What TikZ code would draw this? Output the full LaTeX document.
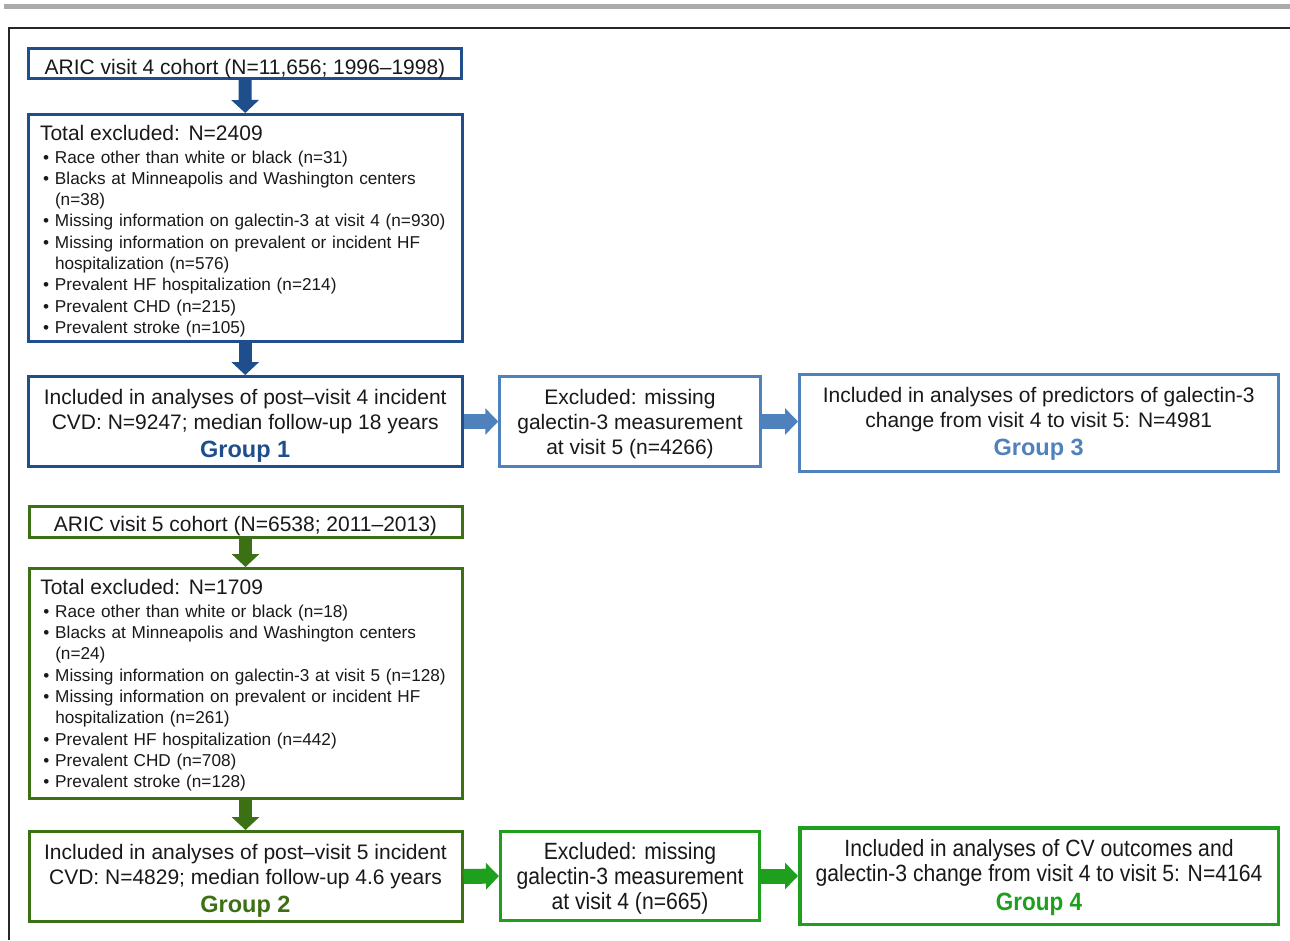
\documentclass[tikz,border=0pt]{standalone}
\usepackage{fontspec}
\setmainfont{Liberation Sans}
\newfontfamily\narrowfont[FakeStretch=0.9]{Liberation Sans}
\usetikzlibrary{arrows.meta}
\definecolor{dblue}{RGB}{31,78,140}
\definecolor{lblue}{RGB}{79,129,189}
\definecolor{dgreen}{RGB}{60,112,20}
\definecolor{bgreen}{RGB}{30,160,30}
\definecolor{txt}{RGB}{25,25,25}
\definecolor{barcol}{RGB}{170,170,170}
\newcommand{\bulit}{\makebox[15pt][l]{\hspace{3pt}•}}
\newcommand{\contind}{\hspace*{15pt}}
\newcommand{\up}[1]{\rule{0pt}{#1}}
\begin{document}
\begin{tikzpicture}[x=1pt,y=-1pt,
  box/.style={draw, line width=3pt, fill=white, inner sep=0pt, align=center, text=txt,
    font=\fontsize{21}{25}\selectfont},
  listbox/.style={box, align=left, text width=410.5pt, font=\fontsize{17.2}{21.3}\selectfont},
  narrowbox/.style={box, font=\narrowfont\fontsize{23.5}{25}\selectfont},
  downarrow/.style={line width=13pt, -{Triangle[width=27pt,length=13pt]}},
  rightarrow/.style={line width=15pt, -{Triangle[width=26pt,length=13pt]}}
]
\useasboundingbox (0,0) rectangle (1290,940);
\fill[barcol] (4,4) rectangle (1290,9);
\draw[line width=1.5pt, black!85] (9,940) -- (9,28) -- (1290,28);

% ---- Group 1 / 3 part
\node[box, draw=dblue, minimum width=433pt, minimum height=30pt, text height=21pt, text depth=0pt] (a1) at (245,63.5)
  {ARIC visit 4 cohort (N=11,656; 1996–1998)};
\node[listbox, draw=dblue, minimum width=433.5pt, minimum height=227pt] (b1) at (245.25,228)
  {{\fontsize{21}{21.3}\selectfont\up{21pt}Total excluded: N=2409}\\[1.7pt]
   \bulit Race other than white or black (n=31)\\
   \bulit Blacks at Minneapolis and Washington centers\\
   \contind (n=38)\\
   \bulit Missing information on galectin-3 at visit 4 (n=930)\\
   \bulit Missing information on prevalent or incident HF\\
   \contind hospitalization (n=576)\\
   \bulit Prevalent HF hospitalization (n=214)\\
   \bulit Prevalent CHD (n=215)\\
   \bulit Prevalent stroke (n=105)};
\node[box, draw=dblue, minimum width=433.5pt, minimum height=90pt] (c1) at (245.25,421.5)
  {\up{24.3pt}Included in analyses of post–visit 4 incident\\
   CVD: N=9247; median follow-up 18 years\\[3pt]
   {\fontsize{23.5}{24}\selectfont\bfseries\color{dblue}Group 1}};
\node[box, draw=lblue, line width=2.5pt, minimum width=261pt, minimum height=90pt] (d1) at (630,421.5)
  {\up{21.3pt}Excluded: missing\\galectin-3 measurement\\at visit 5 (n=4266)};
\node[box, draw=lblue, minimum width=478.5pt, minimum height=97pt] (e1) at (1038.75,423)
  {\up{17.3pt}Included in analyses of predictors of galectin-3\\
   change from visit 4 to visit 5: N=4981\\[2.5pt]
   {\fontsize{23.5}{24}\selectfont\bfseries\color{lblue}Group 3}};

\draw[downarrow, dblue] (a1.south) -- (b1.north);
\draw[downarrow, dblue] (b1.south) -- (c1.north);
\draw[rightarrow, lblue] (c1.east) -- (d1.west);
\draw[rightarrow, lblue] (d1.east) -- (d1.east -| e1.west);

% ---- Group 2 / 4 part
\node[box, draw=dgreen, minimum width=433pt, minimum height=31pt, text height=19pt, text depth=0pt] (a2) at (245.5,522)
  {ARIC visit 5 cohort (N=6538; 2011–2013)};
\node[listbox, draw=dgreen, minimum width=433pt, minimum height=230pt] (b2) at (245.5,683.5)
  {{\fontsize{21}{21.3}\selectfont\up{18.5pt}Total excluded: N=1709}\\[1.7pt]
   \bulit Race other than white or black (n=18)\\
   \bulit Blacks at Minneapolis and Washington centers\\
   \contind (n=24)\\
   \bulit Missing information on galectin-3 at visit 5 (n=128)\\
   \bulit Missing information on prevalent or incident HF\\
   \contind hospitalization (n=261)\\
   \bulit Prevalent HF hospitalization (n=442)\\
   \bulit Prevalent CHD (n=708)\\
   \bulit Prevalent stroke (n=128)};
\node[box, draw=dgreen, minimum width=433pt, minimum height=90pt] (c2) at (245.5,876.5)
  {\up{24.3pt}Included in analyses of post–visit 5 incident\\
   CVD: N=4829; median follow-up 4.6 years\\[3pt]
   {\fontsize{23.5}{24}\selectfont\bfseries\color{dgreen}Group 2}};
\node[narrowbox, draw=bgreen, minimum width=259pt, minimum height=89pt] (d2) at (630,876)
  {\up{21.1pt}Excluded: missing\\galectin-3 measurement\\at visit 4 (n=665)};
\node[narrowbox, draw=bgreen, line width=3.5pt, minimum width=478.5pt, minimum height=96.5pt] (e2) at (1039,876)
  {\up{20.1pt}Included in analyses of CV outcomes and\\
   galectin-3 change from visit 4 to visit 5: N=4164\\[3.5pt]
   {\fontsize{25}{25}\selectfont\bfseries\color{bgreen}Group 4}};

\draw[downarrow, dgreen] (a2.south) -- (b2.north);
\draw[downarrow, dgreen] (b2.south) -- (c2.north);
\draw[rightarrow, bgreen] (c2.east) -- (d2.west);
\draw[rightarrow, bgreen] (d2.east) -- (d2.east -| e2.west);
\end{tikzpicture}
\end{document}
